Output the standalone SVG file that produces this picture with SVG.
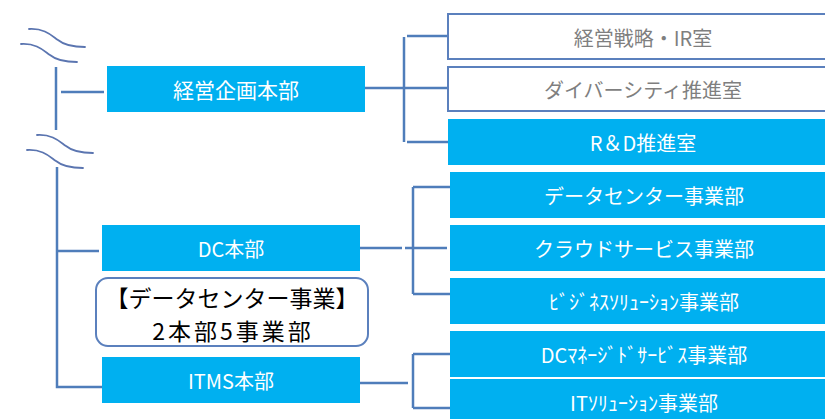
<svg xmlns="http://www.w3.org/2000/svg" width="825" height="419" viewBox="0 0 825 419">
<style>
.box{fill:#00B0F0}
.wbox{fill:#FFFFFF;stroke:#5B80BD;stroke-width:2}
.t{font-family:"Noto Sans CJK JP","Noto Sans",sans-serif;font-size:20px;fill:#FFFFFF;text-anchor:middle;dominant-baseline:central}
.b{font-size:21px}
.g{fill:#7F7F7F}
.k{fill:#000000;font-size:23px}
.ln{stroke:#4F7DBA;stroke-width:2.5;fill:none}
.wv{stroke:#5B75B0;stroke-width:1.8;fill:none;stroke-linecap:round}
</style>
<rect width="825" height="419" fill="#FFFFFF"/>
<g id="connectors">
<path class="wv" d="M29,29 C45,28 52,36 58,40 C64,45 72,47 85,47"/>
<path class="wv" d="M21,44 C37,43 44,51 50,55 C56,60 64,62 77,62"/>
<path class="wv" d="M37,135 C53,134 60,142 66,146 C72,151 80,153 93,153"/>
<path class="wv" d="M27,150 C43,149 50,157 56,161 C62,166 70,168 83,168"/>
<path class="ln" d="M56,67 V130"/>
<path class="ln" d="M61,92 H104"/>
<path class="ln" d="M57,167 V387 H103"/>
<path class="ln" d="M57,251 H99"/>
<path class="ln" d="M362,88 H447"/>
<path class="ln" d="M404,37 V142"/>
<path class="ln" d="M407,36 H451 M407,142 H451"/>
<path class="ln" d="M360,248 H402 M405,248 H447"/>
<path class="ln" d="M413,187 V294"/>
<path class="ln" d="M413,187 H450 M413,294 H450"/>
<path class="ln" d="M360,383 H408"/>
<path class="ln" d="M413,354 V408"/>
<path class="ln" d="M413,354 H450 M413,408 H454"/>
</g>
<g id="n-keiei"><rect class="box" x="107" y="66" width="258" height="46"/><text class="t b" x="236" y="89">経営企画本部</text></g>
<g id="n-ir"><rect class="wbox" x="448" y="14" width="392" height="45"/><text class="t g" x="643" y="37">経営戦略・IR室</text></g>
<g id="n-div"><rect class="wbox" x="448" y="67" width="392" height="44"/><text class="t g" x="643" y="89">ダイバーシティ推進室</text></g>
<g id="n-rd"><rect class="box" x="448" y="119" width="392" height="46"/><text class="t" x="643" y="142">R＆D推進室</text></g>
<g id="n-dcs"><rect class="box" x="450" y="172" width="390" height="46"/><text class="t" x="644" y="195">データセンター事業部</text></g>
<g id="n-cloud"><rect class="box" x="450" y="225" width="390" height="46"/><text class="t" x="644" y="248">クラウドサービス事業部</text></g>
<g id="n-biz"><rect class="box" x="450" y="278" width="390" height="46"/><text class="t" x="644" y="301">ﾋﾞｼﾞﾈｽｿﾘｭｰｼｮﾝ事業部</text></g>
<g id="n-dcm"><rect class="box" x="450" y="331" width="390" height="46"/><text class="t" x="644" y="354">DCﾏﾈｰｼﾞﾄﾞｻｰﾋﾞｽ事業部</text></g>
<g id="n-its"><rect class="box" x="450" y="379" width="390" height="46"/><text class="t" x="644" y="402">ITｿﾘｭｰｼｮﾝ事業部</text></g>
<g id="n-dc"><rect class="box" x="102" y="225" width="258" height="46"/><text class="t" x="231" y="248">DC本部</text></g>
<g id="n-itms"><rect class="box" x="102" y="357" width="258" height="46"/><text class="t" x="231" y="380">ITMS本部</text></g>
<g id="n-note"><rect x="96" y="278" width="272" height="68" rx="12" fill="#FFFFFF" stroke="#5B80BD" stroke-width="2"/><text class="t k" x="232" y="297">【データセンター事業】</text><text class="t k" x="233" y="330" letter-spacing="3">2本部5事業部</text></g>
</svg>
